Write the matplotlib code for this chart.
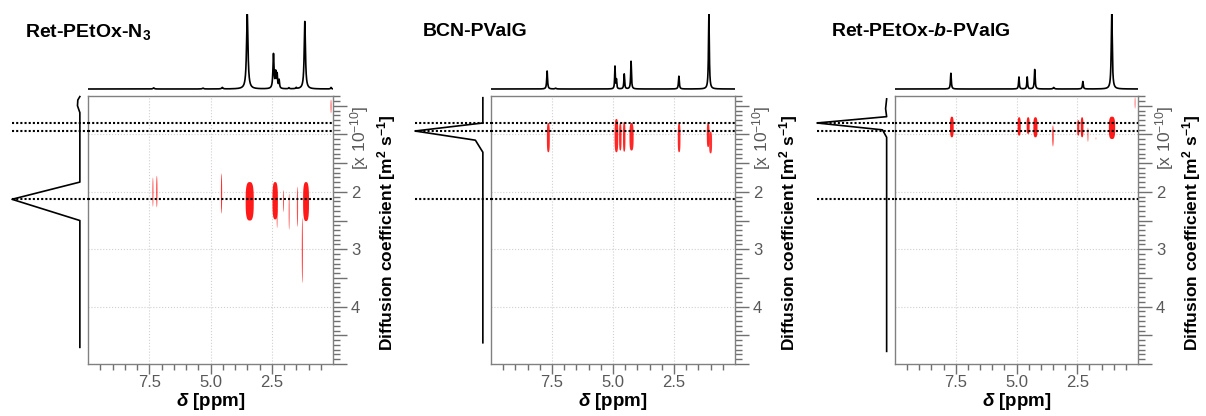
import numpy as np
import matplotlib
matplotlib.use('Agg')
import matplotlib.pyplot as plt
from matplotlib.patches import Polygon
from matplotlib.ticker import MultipleLocator, FixedLocator, FuncFormatter

plt.rcParams['font.family'] = 'Liberation Sans'
plt.rcParams['mathtext.fontset'] = 'custom'
plt.rcParams['mathtext.rm'] = 'Liberation Sans'
plt.rcParams['mathtext.bf'] = 'Liberation Sans:bold'
plt.rcParams['mathtext.it'] = 'Liberation Sans:italic'
plt.rcParams['mathtext.bfit'] = 'Liberation Sans:italic:bold'

# ---- data ----
titles = ['Ret-PEtOx-N$_\\mathbf{3}$', 'BCN-PValG', 'Ret-PEtOx-$\\mathbfit{b}$-PValG']

# 1H spectra on top (peak position ppm, relative height, half width)
spec1_ppm = [7.32, 5.31, 4.52, 3.50, 2.43, 2.34, 2.28, 2.20, 1.80, 1.50, 1.15, 0.08]
spec1_h = [0.015, 0.012, 0.02, 1.0, 0.46, 0.20, 0.18, 0.11, 0.015, 0.015, 0.90, 0.02]
spec1_w = [0.03, 0.03, 0.03, 0.035, 0.025, 0.02, 0.02, 0.02, 0.02, 0.02, 0.03, 0.02]

spec2_ppm = [7.70, 7.35, 4.92, 4.86, 4.54, 4.26, 2.30, 1.07]
spec2_h = [0.24, 0.01, 0.30, 0.12, 0.20, 0.37, 0.17, 1.0]
spec2_w = [0.02, 0.03, 0.015, 0.015, 0.018, 0.018, 0.02, 0.02]

spec3_ppm = [7.70, 4.90, 4.56, 4.25, 3.47, 2.27, 1.08]
spec3_h = [0.21, 0.16, 0.16, 0.26, 0.02, 0.10, 1.0]
spec3_w = [0.02, 0.018, 0.018, 0.02, 0.03, 0.02, 0.025]

# DOSY cross peaks: centre ppm, width ppm, D top, D bottom, alpha
blob1_ppm = [7.35, 7.19, 4.55, 3.40, 2.36, 2.28, 2.02, 1.79, 1.45, 1.10, 1.25, 0.08]
blob1_w = [0.04, 0.05, 0.05, 0.33, 0.22, 0.04, 0.04, 0.04, 0.05, 0.24, 0.05, 0.05]
blob1_top = [1.75, 1.72, 1.68, 1.83, 1.83, 2.30, 1.97, 2.03, 1.91, 1.83, 2.45, 0.39]
blob1_bot = [2.26, 2.27, 2.38, 2.50, 2.48, 2.63, 2.35, 2.66, 2.61, 2.51, 3.59, 0.63]
blob1_a = [0.8, 0.8, 0.8, 0.9, 0.9, 0.6, 0.7, 0.7, 0.7, 0.9, 0.7, 0.6]

blob2_ppm = [7.65, 4.86, 4.70, 4.54, 4.24, 2.29, 1.10, 1.00]
blob2_w = [0.12, 0.15, 0.10, 0.10, 0.17, 0.11, 0.11, 0.12]
blob2_top = [0.80, 0.73, 0.80, 0.78, 0.80, 0.80, 0.80, 0.95]
blob2_bot = [1.31, 1.31, 1.28, 1.30, 1.28, 1.31, 1.22, 1.33]
blob2_a = [0.85, 0.85, 0.85, 0.85, 0.85, 0.85, 0.85, 0.8]

blob3_ppm = [7.66, 4.89, 4.52, 4.22, 3.50, 2.46, 2.30, 2.06, 1.73, 1.07, 0.12]
blob3_w = [0.15, 0.13, 0.12, 0.17, 0.07, 0.09, 0.11, 0.05, 0.03, 0.26, 0.04]
blob3_top = [0.69, 0.70, 0.70, 0.70, 0.84, 0.75, 0.70, 0.88, 1.05, 0.69, 0.35]
blob3_bot = [1.05, 1.02, 0.99, 1.05, 1.21, 1.02, 1.05, 1.13, 1.09, 1.08, 0.55]
blob3_a = [0.9, 0.9, 0.9, 0.9, 0.7, 0.85, 0.9, 0.6, 0.5, 0.9, 0.6]

# diffusion projections on the left (D, relative intensity)
proj1_d = [0.34, 0.40, 0.50, 0.62, 1.83, 2.13, 2.50, 4.71]
proj1_i = [0.0, 0.03, 0.035, 0.0, 0.0, 1.0, 0.0, 0.0]
proj2_d = [0.36, 0.80, 0.94, 1.10, 1.31, 4.63]
proj2_i = [0.0, 0.0, 1.0, 0.11, 0.0, 0.0]
proj3_d = [0.38, 0.55, 0.69, 0.80, 0.92, 1.05, 4.78]
proj3_i = [0.0, 0.015, 0.0, 1.0, 0.06, 0.0, 0.0]

# dotted reference lines (D)
ref_d = [0.80, 0.94, 2.13]

spectra = [(spec1_ppm, spec1_h, spec1_w), (spec2_ppm, spec2_h, spec2_w), (spec3_ppm, spec3_h, spec3_w)]
blobs = [(blob1_ppm, blob1_w, blob1_top, blob1_bot, blob1_a),
         (blob2_ppm, blob2_w, blob2_top, blob2_bot, blob2_a),
         (blob3_ppm, blob3_w, blob3_top, blob3_bot, blob3_a)]
projs = [(proj1_d, proj1_i), (proj2_d, proj2_i), (proj3_d, proj3_i)]

# ---- layout (pixels) ----
W, H = 1206, 416
main_left = [88, 491, 895]
main_right = [333, 735, 1138]
main_top, main_bot = 96, 364
proj_left = [12, 415, 817]
spec_top, spec_bot = 14, 92
title_x = [25, 423, 831]

XLIM = (10, 0)
YLIM = (5.0, 0.33)
GREY = '#595959'


def rect(x0, y0, x1, y1):
    return [x0 / W, 1 - y1 / H, (x1 - x0) / W, (y1 - y0) / H]


def ylab(v, pos):
    r = round(v)
    if abs(v - r) < 1e-6 and r in (2, 3, 4):
        return str(int(r))
    return ''


def capsule(cx, cy, w, h, n=3.0):
    # rounded, flat-sided outline like the contour blobs
    th = np.linspace(0, 2 * np.pi, 80)
    c, s = np.cos(th), np.sin(th)
    xs = cx + w / 2 * np.sign(c) * np.abs(c) ** (2 / n)
    ys = cy + h / 2 * np.sign(s) * np.abs(s) ** (2 / n)
    return np.column_stack([xs, ys])


fig = plt.figure(figsize=(W / 100, H / 100), dpi=100)

for i in range(3):
    # main DOSY axes
    ax = fig.add_axes(rect(main_left[i], main_top, main_right[i], main_bot))
    ax.set_xlim(*XLIM)
    ax.set_ylim(*YLIM)
    for g in [2.5, 5.0, 7.5]:
        ax.axvline(g, color='#d0d0d0', ls=':', lw=0.8, zorder=0)
    for g in [1, 2, 3, 4]:
        ax.axhline(g, color='#d0d0d0', ls=':', lw=0.8, zorder=0)
    bp, bw, bt, bb, ba = blobs[i]
    for p, w, t, b, a in zip(bp, bw, bt, bb, ba):
        n = 3.0 if w > 0.08 else 2.0
        ax.add_patch(Polygon(capsule(p, (t + b) / 2, w, b - t, n), closed=True,
                             fc='#ff0000', ec='none', alpha=a, zorder=2))
    for d in ref_d:
        ax.axhline(d, color='black', ls=(0, (1, 1)), lw=1.5, zorder=3)
    for s in ax.spines.values():
        s.set_color('#808080')
        s.set_linewidth(1.0)
    ax.xaxis.set_major_locator(FixedLocator([2.5, 5.0, 7.5]))
    ax.xaxis.set_minor_locator(FixedLocator(np.arange(0.5, 10, 0.5)))
    ax.xaxis.set_major_formatter(FuncFormatter(lambda v, p: '%.1f' % v))
    ax.tick_params(axis='x', which='major', direction='out', length=7, width=1,
                   color='#707070', labelsize=12, labelcolor=GREY, pad=1)
    ax.tick_params(axis='x', which='minor', direction='out', length=4, width=1, color='#707070')
    ax.yaxis.tick_right()
    ax.yaxis.set_major_locator(MultipleLocator(0.5))
    ax.yaxis.set_minor_locator(MultipleLocator(1 / 12))
    ax.yaxis.set_major_formatter(FuncFormatter(ylab))
    ax.tick_params(axis='y', which='major', direction='out', length=10, width=1,
                   color='#707070', labelsize=12, labelcolor=GREY, pad=3)
    ax.tick_params(axis='y', which='minor', direction='out', length=5, width=1, color='#707070')

    # top 1H spectrum
    axs = fig.add_axes(rect(main_left[i], spec_top, main_right[i], spec_bot))
    x = np.linspace(10, 0, 6000)
    y = np.zeros_like(x)
    for p, h, w in zip(*spectra[i]):
        y += h / (1 + ((x - p) / w) ** 2)
    axs.plot(x, y, color='black', lw=1.2)
    axs.set_xlim(*XLIM)
    axs.set_ylim(-0.04, 1.0)
    axs.axis('off')

    # left diffusion projection
    axp = fig.add_axes(rect(proj_left[i], main_top, main_left[i], main_bot))
    pd_, pi_ = projs[i]
    axp.plot(pi_, pd_, color='black', lw=1.2, clip_on=False)
    for d in ref_d:
        axp.axhline(d, color='black', ls=(0, (1, 1)), lw=1.5)
    axp.set_xlim(1.0, -0.12)
    axp.set_ylim(*YLIM)
    axp.axis('off')

    # texts
    fig.text(title_x[i] / W, 1 - 32 / H, titles[i], fontsize=14, fontweight='bold',
             ha='left', va='center')
    cx = (main_left[i] + main_right[i]) / 2
    fig.text(cx / W, 1 - 401 / H, r'$\mathbfit{\delta}$ [ppm]', fontsize=13.5, fontweight='bold',
             ha='center', va='center')
    fig.text((main_right[i] + 54) / W, 1 - 233 / H,
             'Diffusion coefficient [m$^\\mathbf{2}$ s$^\\mathbf{-1}$]',
             fontsize=12.5, fontweight='bold', rotation=90, ha='center', va='center')
    fig.text((main_right[i] + 27) / W, 1 - 138 / H, '[x 10$^{-10}$]', fontsize=12.5,
             color=GREY, rotation=90, ha='center', va='center')

fig.savefig('out.png', dpi=100)
